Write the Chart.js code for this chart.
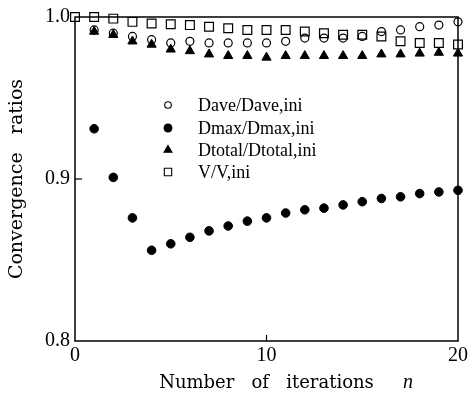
<!DOCTYPE html>
<html>
<head>
<meta charset="utf-8">
<script src="https://cdn.jsdelivr.net/npm/chart.js@4/dist/chart.umd.min.js"></script>
<style>
html,body{margin:0;padding:0;background:#fff;}
canvas{display:block;}
</style>
</head>
<body>
<canvas id="c" width="471" height="403"></canvas>
<script>
// ---- data ----
const iterations = [0,1,2,3,4,5,6,7,8,9,10,11,12,13,14,15,16,17,18,19,20];
const daveRatio   = [null,0.992,0.990,0.988,0.986,0.984,0.985,0.984,0.984,0.984,0.984,0.985,0.987,0.987,0.987,0.988,0.991,0.992,0.994,0.995,0.997];
const dmaxRatio   = [null,0.931,0.901,0.876,0.856,0.860,0.864,0.868,0.871,0.874,0.876,0.879,0.881,0.882,0.884,0.886,0.888,0.889,0.891,0.892,0.893];
const dtotalRatio = [null,0.991,0.989,0.985,0.983,0.980,0.979,0.977,0.976,0.976,0.975,0.976,0.976,0.976,0.976,0.976,0.977,0.977,0.9775,0.978,0.9775];
const volumeRatio = [1.000,1.000,0.999,0.997,0.996,0.9955,0.995,0.994,0.993,0.992,0.992,0.992,0.991,0.990,0.989,0.989,0.988,0.985,0.984,0.984,0.983];
const seriesLabels = ['Dave/Dave,ini','Dmax/Dmax,ini','Dtotal/Dtotal,ini','V/V,ini'];
const yTickValues = [0.8, 0.9, 1.0];
const xTickValues = [0, 10, 20];
const xTitle = 'Number   of   iterations';
const xTitleVar = 'n';
const yTitle = 'Convergence   ratios';

function pts(arr){
  return iterations.map((x,i)=>({x:x, y:arr[i]})).filter(p=>p.y!==null);
}

const TICK_FONT = {family:'"Liberation Serif", "Times New Roman", serif', size:20};
const TITLE_FONT = {family:'"DejaVu Serif", serif', size:18};

const frame = {
  id:'frame',
  afterDatasetsDraw(chart){
    const {ctx, chartArea:a, scales} = chart;
    ctx.save();
    ctx.strokeStyle = '#000';
    ctx.lineWidth = 1.5;
    ctx.strokeRect(a.left, a.top, a.right-a.left, a.bottom-a.top);
    ctx.lineWidth = 1.2;
    // inward ticks
    scales.y.ticks.forEach(t=>{
      if (t.value <= scales.y.min || t.value >= scales.y.max) return;
      const y = scales.y.getPixelForValue(t.value);
      ctx.beginPath(); ctx.moveTo(a.left, y); ctx.lineTo(a.left+7, y); ctx.stroke();
    });
    scales.x.ticks.forEach(t=>{
      if (t.value <= scales.x.min || t.value >= scales.x.max) return;
      const x = scales.x.getPixelForValue(t.value);
      ctx.beginPath(); ctx.moveTo(x, a.bottom); ctx.lineTo(x, a.bottom-6); ctx.stroke();
    });
    // italic variable n after x title
    ctx.fillStyle = '#000';
    ctx.font = 'italic 20px "Liberation Serif", serif';
    ctx.textAlign = 'center';
    ctx.textBaseline = 'middle';
    ctx.fillText(xTitleVar, 408, 383);
    // legend
    const styles = [
      {style:'circle', r:3.3, fill:false},
      {style:'circle', r:3.9, fill:true},
      {style:'triangle', r:4.6, fill:true},
      {style:'rect', r:5.2, fill:false}
    ];
    const rows = [105, 128, 150, 172];
    ctx.font = '18px "Liberation Serif", serif';
    ctx.textAlign = 'left';
    seriesLabels.forEach((lab,i)=>{
      const s = styles[i];
      const mx = 168, my = rows[i];
      ctx.save();
      ctx.strokeStyle = '#000'; ctx.fillStyle = '#000'; ctx.lineWidth = 1.1;
      if (Chart.helpers && Chart.helpers.drawPoint) {
        ctx.fillStyle = s.fill ? '#000' : 'rgba(0,0,0,0)';
        Chart.helpers.drawPoint(ctx, {pointStyle:s.style, radius:s.r, rotation:0, borderWidth:1.1}, mx, my);
      }
      ctx.restore();
      ctx.fillStyle = '#000';
      ctx.fillText(lab, 198, my+1);
    });
    ctx.restore();
  }
};

new Chart(document.getElementById('c'), {
  type:'scatter',
  data:{
    datasets:[
      {label:seriesLabels[0], data:pts(daveRatio), pointStyle:'circle', pointRadius:4, borderColor:'#000', backgroundColor:'rgba(0,0,0,0)', borderWidth:1.2, clip:false},
      {label:seriesLabels[1], data:pts(dmaxRatio), pointStyle:'circle', pointRadius:4.3, borderColor:'#000', backgroundColor:'#000', borderWidth:1, clip:false},
      {label:seriesLabels[2], data:pts(dtotalRatio), pointStyle:'triangle', pointRadius:5.3, borderColor:'#000', backgroundColor:'#000', borderWidth:1, clip:false},
      {label:seriesLabels[3], data:pts(volumeRatio), pointStyle:'rect', pointRadius:6.2, borderColor:'#000', backgroundColor:'rgba(0,0,0,0)', borderWidth:1.2, clip:false}
    ]
  },
  options:{
    responsive:false,
    animation:false,
    devicePixelRatio:1,
    layout:{padding:{top:16, right:10, left:0, bottom:0}},
    plugins:{legend:{display:false}, tooltip:{enabled:false}},
    elements:{point:{hoverRadius:0}},
    scales:{
      x:{
        type:'linear', min:0, max:20,
        afterBuildTicks(s){ s.ticks = xTickValues.map(v=>({value:v})); },
        afterFit(s){ s.height = 62; },
        grid:{display:false, drawTicks:false},
        border:{display:false},
        ticks:{font:TICK_FONT, color:'#000', padding:3, maxRotation:0, callback:v=>String(v)},
        title:{display:true, text:xTitle, font:TITLE_FONT, color:'#000', padding:{top:0, bottom:9}}
      },
      y:{
        type:'linear', min:0.8, max:1.0,
        afterBuildTicks(s){ s.ticks = yTickValues.map(v=>({value:v})); },
        afterFit(s){ s.width = 75; },
        grid:{display:false, drawTicks:false},
        border:{display:false},
        ticks:{font:TICK_FONT, color:'#000', padding:5, callback:v=>Number(v).toFixed(1)},
        title:{display:true, text:yTitle, font:{family:'"DejaVu Serif", serif', size:19}, color:'#000', padding:{top:6, bottom:0}}
      }
    }
  },
  plugins:[frame]
});
</script>
</body>
</html>
